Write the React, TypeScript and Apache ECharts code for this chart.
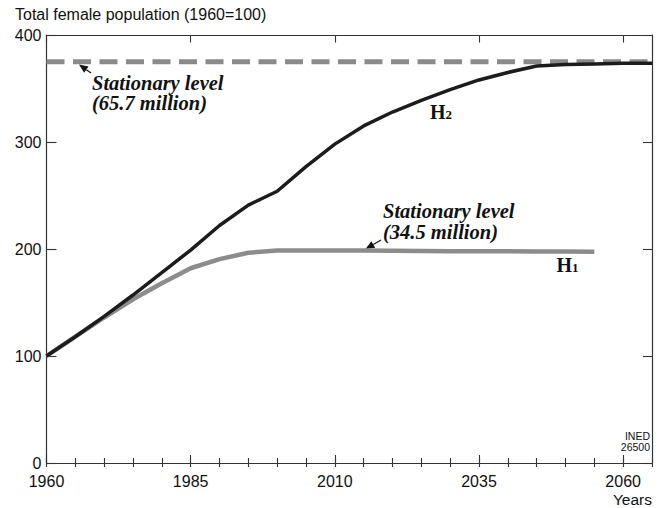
import React, { useEffect, useRef } from "react";
import * as echarts from "echarts";

// ---- Data ----
const h2Years = [1960, 1965, 1970, 1975, 1980, 1985, 1990, 1995, 2000, 2005, 2010, 2015, 2020, 2025, 2030, 2035, 2040, 2045, 2050, 2055, 2060, 2065];
const h2Values = [100, 118, 137, 157, 178, 199, 222, 241, 254, 277, 298, 315, 328, 339, 349, 358, 365, 371, 372.5, 373, 373.5, 373.5];
const h1Years = [1960, 1965, 1970, 1975, 1980, 1985, 1990, 1995, 2000, 2005, 2010, 2015, 2020, 2025, 2030, 2035, 2040, 2045, 2050, 2055];
const h1Values = [100, 118, 136, 153, 168, 182, 190.5, 196.5, 198.5, 198.5, 198.5, 198.5, 198.3, 198.2, 198, 198, 197.8, 197.7, 197.6, 197.5];
const stationaryYears = [1960, 2065];
const stationaryValues = [375, 375];
const xMajorTicks = [1960, 1985, 2010, 2035, 2060];
const xMinorTicks = [1960, 1965, 1970, 1975, 1980, 1985, 1990, 1995, 2000, 2005, 2010, 2015, 2020, 2025, 2030, 2035, 2040, 2045, 2050, 2055, 2060, 2065];
const yTicks = [0, 100, 200, 300, 400];

const SANS = '"Liberation Sans", Arial, Helvetica, sans-serif';
const SERIF = '"Liberation Serif", "Times New Roman", serif';
const AXIS_COLOR = "#333";

function arrow(tip: [number, number], tail: [number, number]) {
  const dx = tail[0] - tip[0];
  const dy = tail[1] - tip[1];
  const len = Math.sqrt(dx * dx + dy * dy);
  const ux = dx / len;
  const uy = dy / len;
  const headLen = 9;
  const halfW = 3.8;
  const bx = tip[0] + ux * headLen;
  const by = tip[1] + uy * headLen;
  const px = -uy;
  const py = ux;
  return [
    {
      type: "line",
      shape: { x1: bx, y1: by, x2: tail[0], y2: tail[1] },
      style: { stroke: "#111", lineWidth: 1.2 },
      silent: true,
    },
    {
      type: "polygon",
      shape: {
        points: [
          [tip[0], tip[1]],
          [bx + px * halfW, by + py * halfW],
          [bx - px * halfW, by - py * halfW],
        ],
      },
      style: { fill: "#111" },
      silent: true,
    },
  ];
}

function annotText(x: number, y: number, text: string, font: string, lineHeight?: number, vAlign = "middle") {
  return {
    type: "text",
    x,
    y,
    silent: true,
    style: { text, font, fill: "#111", textAlign: "left", textVerticalAlign: vAlign, lineHeight },
  };
}

export default function App() {
  const ref = useRef<HTMLDivElement>(null);

  useEffect(() => {
    document.body.style.margin = "0";
    const chart = echarts.init(ref.current!, null, { renderer: "svg" });
    const axisLine = { show: true, onZero: false, lineStyle: { color: AXIS_COLOR, width: 1.2 } };
    const tickStyle = { color: AXIS_COLOR, width: 1.1 };
    const baseX = { type: "value", min: 1960, max: 2065, interval: 5, splitLine: { show: false } };
    const italic = `italic bold 20.5px ${SERIF}`;
    const bold = `bold 20px ${SERIF}`;
    const sub = `bold 13px ${SERIF}`;

    chart.setOption({
      animation: false,
      backgroundColor: "#fff",
      grid: { left: 46.5, right: 7, top: 35, bottom: 45, containLabel: false },
      xAxis: [
        {
          ...baseX,
          position: "bottom",
          axisLine,
          axisTick: { show: true, inside: true, length: 8, lineStyle: tickStyle, customValues: xMajorTicks },
          axisLabel: {
            show: true,
            margin: 10,
            fontSize: 16,
            color: "#111",
            fontFamily: SANS,
            customValues: xMajorTicks,
            formatter: (v: number) => String(v),
          },
        },
        {
          ...baseX,
          position: "bottom",
          axisLine: { show: false },
          axisTick: { show: true, inside: true, length: 5, lineStyle: tickStyle, customValues: xMinorTicks },
          axisLabel: { show: false },
        },
        {
          ...baseX,
          position: "top",
          axisLine,
          axisTick: { show: true, inside: true, length: 7.5, lineStyle: tickStyle, customValues: xMajorTicks },
          axisLabel: { show: false },
        },
        {
          ...baseX,
          position: "top",
          axisLine: { show: false },
          axisTick: { show: true, inside: true, length: 4, lineStyle: tickStyle, customValues: xMinorTicks },
          axisLabel: { show: false },
        },
      ],
      yAxis: [
        {
          type: "value",
          min: 0,
          max: 400,
          interval: 100,
          position: "left",
          axisLine,
          axisTick: { show: true, inside: true, length: 10, lineStyle: tickStyle, customValues: yTicks },
          axisLabel: { show: true, margin: 5, fontSize: 16, color: "#111", fontFamily: SANS, customValues: yTicks },
          splitLine: { show: false },
        },
        {
          type: "value",
          min: 0,
          max: 400,
          interval: 100,
          position: "right",
          axisLine,
          axisTick: { show: true, inside: true, length: 9, lineStyle: tickStyle, customValues: yTicks },
          axisLabel: { show: false },
          splitLine: { show: false },
        },
      ],
      series: [
        {
          type: "line",
          name: "Stationary level H2",
          data: stationaryYears.map((y, i) => [y, stationaryValues[i]]),
          showSymbol: false,
          silent: true,
          z: 1,
          lineStyle: { color: "#8a8a8a", width: 5, type: [18, 8.5], cap: "butt" },
        },
        {
          type: "line",
          name: "H1",
          data: h1Years.map((y, i) => [y, h1Values[i]]),
          showSymbol: false,
          silent: true,
          z: 2,
          lineStyle: { color: "#8c8c8c", width: 4.5, cap: "butt", join: "round" },
        },
        {
          type: "line",
          name: "H2",
          data: h2Years.map((y, i) => [y, h2Values[i]]),
          showSymbol: false,
          silent: true,
          z: 3,
          lineStyle: { color: "#1c1c1c", width: 3.5, cap: "butt", join: "round" },
        },
      ],
      graphic: [
        {
          type: "text",
          left: 15,
          top: 6,
          silent: true,
          style: { text: "Total female population (1960=100)", font: `16px ${SANS}`, fill: "#111" },
        },
        {
          type: "text",
          right: 7,
          top: 491,
          silent: true,
          style: { text: "Years", font: `15.5px ${SANS}`, fill: "#111" },
        },
        {
          type: "text",
          x: 650,
          y: 430,
          silent: true,
          style: { text: "INED\n26500", font: `10.5px ${SANS}`, fill: "#111", textAlign: "right", lineHeight: 11.5 },
        },
        annotText(92, 72.4, "Stationary level\n(65.7 million)", italic, 20.5, "top"),
        ...arrow([79, 64.5], [91, 73]),
        annotText(383, 201, "Stationary level\n(34.5 million)", italic, 20.5, "top"),
        ...arrow([365.5, 249], [381, 240]),
        annotText(430, 112.3, "H", bold),
        annotText(445.5, 114.6, "2", sub),
        annotText(556.5, 265, "H", bold),
        annotText(572, 267.3, "1", sub),
      ],
    });
    return () => chart.dispose();
  }, []);

  return <div ref={ref} style={{ position: "absolute", left: 0, top: 0, width: 659, height: 508 }} />;
}
